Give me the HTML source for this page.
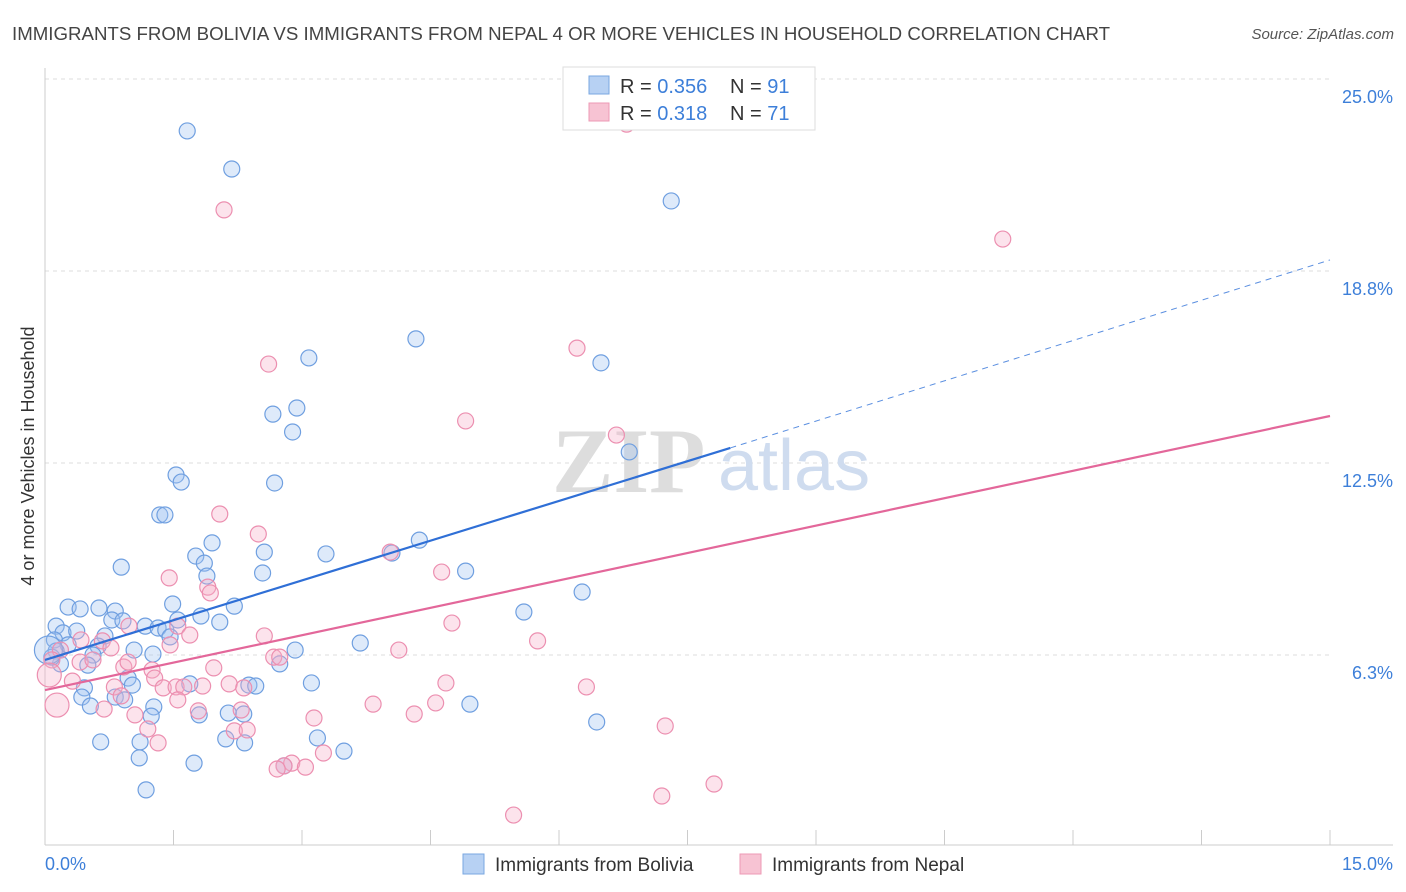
<!DOCTYPE html>
<html><head><meta charset="utf-8"><style>
body{margin:0;background:#fff;font-family:"Liberation Sans",sans-serif}
svg{display:block}
</style></head><body>
<svg width="1406" height="892" xmlns="http://www.w3.org/2000/svg" font-family="Liberation Sans, sans-serif">
<text x="12" y="40" font-size="18" fill="#444" textLength="1098" lengthAdjust="spacingAndGlyphs">IMMIGRANTS FROM BOLIVIA VS IMMIGRANTS FROM NEPAL 4 OR MORE VEHICLES IN HOUSEHOLD CORRELATION CHART</text>
<text x="1394" y="39" font-size="15" fill="#555" font-style="italic" text-anchor="end">Source: ZipAtlas.com</text>
<g id="grid"></g>
<g>
<text x="552" y="492" font-size="92" font-family="Liberation Serif, serif" fill="#ddd" font-weight="bold">ZIP</text>
<text x="718" y="490" font-size="72" fill="#cfdcef">atlas</text>
</g>
<g id="axes"></g>
<g id="pts"></g>
<g id="lines"></g>
<text x="34" y="456" font-size="18" fill="#333" text-anchor="middle" transform="rotate(-90 34 456)">4 or more Vehicles in Household</text>
<g>
<rect x="563" y="67" width="252" height="63" fill="#fff" stroke="#ddd"/>
<rect x="589" y="76" width="20" height="18" fill="#b7d1f3" stroke="#7aa7e0"/>
<rect x="589" y="103" width="20" height="18" fill="#f7c3d3" stroke="#ee9ab4"/>
<text x="620" y="93" font-size="20" fill="#333">R = <tspan fill="#3d7fd9">0.356</tspan><tspan x="730">N = </tspan><tspan fill="#3d7fd9">91</tspan></text>
<text x="620" y="120" font-size="20" fill="#333">R =  <tspan fill="#3d7fd9">0.318</tspan><tspan x="730">N = </tspan><tspan fill="#3d7fd9">71</tspan></text>
</g>
<g>
<rect x="463" y="854" width="21" height="20" fill="#b7d1f3" stroke="#7aa7e0"/>
<text x="495" y="871" font-size="19" fill="#333">Immigrants from Bolivia</text>
<rect x="740" y="854" width="21" height="20" fill="#f7c3d3" stroke="#ee9ab4"/>
<text x="772" y="871" font-size="19" fill="#333">Immigrants from Nepal</text>
</g>
</svg>
<script>
const bolX=[1.66,2.18,7.31,4.33,3.08,6.49,2.66,2.94,2.89,6.82,1.53,1.59,2.68,1.34,1.40,1.95,2.56,3.28,4.05,4.37,1.76,1.86,0.89,1.89,2.54,4.91,6.27,5.59,0.27,0.41,0.63,0.82,1.49,2.21,1.82,0.78,1.55,2.04,0.13,0.21,0.37,0.70,0.91,1.17,1.32,1.41,1.46,0.11,0.27,0.62,0.56,1.04,1.26,0.13,0.18,0.50,3.68,2.92,2.74,0.97,1.02,0.82,0.93,0.46,0.43,0.53,1.27,1.24,1.69,2.38,2.46,3.11,4.96,2.14,2.32,1.80,6.44,0.65,1.11,2.11,2.33,3.18,3.49,1.10,1.74,2.79,1.18,0.08,0.04];
const bolY=[23.31,22.07,21.03,16.54,15.92,15.76,14.09,14.29,13.51,12.86,12.11,11.88,11.85,10.81,10.81,9.90,9.60,9.54,9.57,9.99,9.47,9.24,9.11,8.82,8.92,8.98,8.30,7.65,7.81,7.75,7.78,7.68,7.91,7.84,7.52,7.39,7.39,7.32,7.19,6.97,7.03,6.87,7.36,7.19,7.13,7.06,6.84,6.74,6.58,6.54,6.25,6.41,6.28,6.38,5.96,5.92,6.64,6.41,5.96,5.50,5.27,4.88,4.79,5.18,4.88,4.59,4.56,4.26,5.31,5.27,5.24,5.34,4.65,4.36,4.33,4.30,4.07,3.42,3.42,3.52,3.39,3.55,3.12,2.90,2.73,2.64,1.86,6.18,6.41];
const nepX=[6.79,2.09,11.18,6.21,2.61,4.91,6.67,2.04,2.49,4.03,1.45,1.90,1.93,4.63,4.75,5.75,2.56,4.13,1.55,1.69,0.98,0.67,0.77,0.42,0.18,0.08,0.41,0.56,0.92,0.97,1.25,1.46,1.97,2.67,2.74,1.28,1.38,1.53,1.62,1.84,2.15,2.32,4.68,6.32,0.81,0.89,0.32,1.55,0.14,0.69,1.05,2.29,1.79,3.83,4.56,4.31,3.14,7.24,1.20,2.21,2.36,1.32,3.25,2.88,2.79,2.71,3.04,7.81,7.20,5.47,0.05];
const nepY=[23.53,20.74,19.79,16.24,15.72,13.87,13.41,10.84,10.19,9.60,8.76,8.46,8.27,8.95,7.29,6.71,6.87,6.41,7.19,6.90,7.19,6.71,6.48,6.74,6.41,6.09,6.02,6.09,5.86,6.02,5.76,6.58,5.83,6.18,6.18,5.50,5.18,5.21,5.21,5.24,5.31,5.18,5.34,5.21,5.21,4.92,5.40,4.79,4.62,4.49,4.30,4.46,4.43,4.65,4.69,4.33,4.20,3.94,3.84,3.78,3.81,3.39,3.06,2.73,2.64,2.54,2.60,2.05,1.66,1.04,5.60];
const bigBol=[88];const bigNep=[48,70];
const yTicks=[6.25,12.5,18.75,25];
const yTickLabels=["6.3%","12.5%","18.8%","25.0%"];
const bolLine=[6.09,12.99,19.11];
const nepLine=[5.11,14.03];
const X=v=>45+v/15*1285, Y=v=>847-v/25*768;
const NS="http://www.w3.org/2000/svg";
function mk(tag,a,p){const e=document.createElementNS(NS,tag);for(const k in a)e.setAttribute(k,a[k]);p.appendChild(e);return e;}
const grid=document.getElementById('grid'),axes=document.getElementById('axes'),pts=document.getElementById('pts'),lines=document.getElementById('lines');
yTicks.forEach((t,i)=>{
 const l=mk('line',{x1:45,x2:1330,y1:Y(t),y2:Y(t),stroke:'#ddd','stroke-dasharray':'4,4'},grid);
 
 
 const tx=mk('text',{x:1393,y:Y(t)+24,'font-size':18,fill:'#3d7fd9','text-anchor':'end'},axes);
 tx.textContent=yTickLabels[i];
 
 
});
mk('line',{x1:45,x2:45,y1:68,y2:845,stroke:'#ccc'},axes);
mk('line',{x1:45,x2:1393,y1:845,y2:845,stroke:'#ccc'},axes);
for(let i=0;i<=10;i++){const t=mk('line',{x1:X(i*1.5),x2:X(i*1.5),y1:830,y2:845,stroke:'#ccc'},axes);
 
 }
let a=mk('text',{x:45,y:870,'font-size':18,fill:'#3d7fd9'},axes);a.textContent='0.0%';


a=mk('text',{x:1393,y:870,'font-size':18,fill:'#3d7fd9','text-anchor':'end'},axes);a.textContent='15.0%';


bolX.forEach((x,i)=>{const c=mk('circle',{cx:X(x),cy:Y(bolY[i]),r:bigBol.includes(i)?14:8,fill:'rgba(160,195,240,0.35)',stroke:'#6f9fe0','stroke-width':1.2},pts);
 
 });
nepX.forEach((x,i)=>{const c=mk('circle',{cx:X(x),cy:Y(nepY[i]),r:bigNep.includes(i)?12:8,fill:'rgba(245,175,200,0.35)',stroke:'#ec8fb0','stroke-width':1.2},pts);
 
 });
let l=mk('line',{x1:X(0),y1:Y(bolLine[0]),x2:X(8),y2:Y(bolLine[1]),stroke:'#2f6fd6','stroke-width':2.2},lines);


l=mk('line',{x1:X(8),y1:Y(bolLine[1]),x2:X(15),y2:Y(bolLine[2]),stroke:'#5b8fe0','stroke-width':1,'stroke-dasharray':'6,5'},lines);


l=mk('line',{x1:X(0),y1:Y(nepLine[0]),x2:X(15),y2:Y(nepLine[1]),stroke:'#e3679a','stroke-width':2.2},lines);


</script>
</body></html>
